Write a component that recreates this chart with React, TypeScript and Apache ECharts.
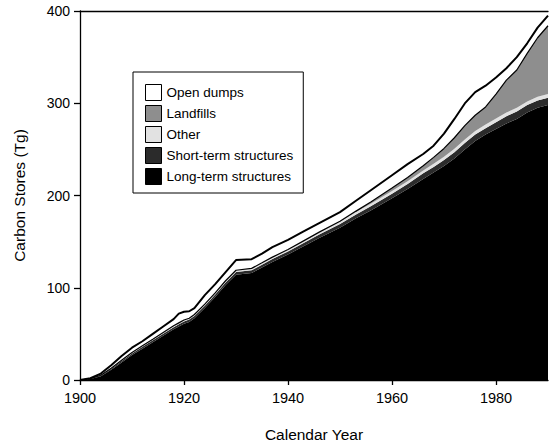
import React, { useEffect, useRef } from "react";
import * as echarts from "echarts";

const years = [1900, 1902, 1904, 1906, 1908, 1910, 1912, 1914, 1916, 1918, 1919, 1920, 1921, 1922, 1924, 1926, 1928, 1930, 1933, 1935, 1937, 1940, 1943, 1946, 1950, 1953, 1956, 1960, 1963, 1966, 1968, 1970, 1972, 1974, 1976, 1978, 1980, 1982, 1984, 1986, 1988, 1990];

const longTerm = [0, 1, 4, 11, 19, 27, 34, 41, 48, 55, 58, 61, 63, 67, 78, 90, 103, 114, 116, 122, 128, 136, 145, 154, 165, 175, 184, 197, 207, 218, 225, 232, 240, 250, 259, 266, 272, 278, 283, 290, 295, 298];
const shortTerm = [0, 0.3, 0.8, 1.2, 1.5, 1.8, 2, 2, 2.2, 2.3, 2.4, 2.5, 2.5, 2.5, 2.6, 2.7, 2.8, 3, 3, 3, 3.2, 3.4, 3.6, 3.8, 4, 4.2, 4.5, 5, 5.5, 6, 6, 6.5, 7, 7, 7, 7, 7.5, 8, 8, 8, 8, 8];
const other = [0, 0.2, 0.4, 0.6, 0.8, 1, 1.2, 1.3, 1.4, 1.5, 1.5, 1.5, 1.5, 1.5, 1.6, 1.7, 1.8, 2, 2, 2, 2, 2, 2.2, 2.3, 2.5, 2.6, 2.8, 3, 3, 3.2, 3.3, 3.5, 3.6, 3.8, 4, 4, 4, 4, 4, 4, 4, 4];
const landfills = [0, 0, 0, 0, 0, 0, 0, 0, 0, 0, 0, 0, 0, 0, 0, 0, 0, 0, 0, 0, 0, 0, 0, 0.2, 0.5, 1, 2, 3, 4, 5, 7, 9, 12, 15, 17, 19, 26.5, 35, 41, 52, 64, 74];
const openDumps = [0, 0.5, 1.8, 3.2, 4.7, 5.2, 4.8, 5.7, 6.4, 7.2, 10, 9, 7.5, 7, 9.8, 9.6, 9.4, 11, 10, 10, 10.8, 10.6, 10.2, 9.7, 10, 11.2, 12.7, 14, 14.5, 12.8, 12.7, 16, 20.4, 24, 25, 23, 18, 13, 14, 11, 11, 11];

const yTicks = { min: 0, max: 400, interval: 100 };
const xTicks = { min: 1900, max: 1990, interval: 20 };

const FONT = "'Liberation Sans', Arial, Helvetica, sans-serif";

// value first, year second (encode maps them), so that the stack sums the values
function pairs(vals: number[]) {
  return years.map((y, i) => [vals[i], y]);
}

export default function App() {
  const ref = useRef<HTMLDivElement>(null);
  useEffect(() => {
    document.body.style.margin = "0";
    const chart = echarts.init(ref.current!, null, { renderer: "svg" });
    const mk = (name: string, vals: number[], color: string, line: any) => ({
      name,
      type: "line",
      stack: "total",
      data: pairs(vals),
      encode: { x: 1, y: 0 },
      symbol: "none",
      color,
      itemStyle: { color },
      lineStyle: line,
      areaStyle: { color, opacity: 1 },
      emphasis: { disabled: true },
    });
    chart.setOption({
      animation: false,
      backgroundColor: "#ffffff",
      textStyle: { fontFamily: FONT },
      grid: { left: 80, right: 1, top: 11, bottom: 62 },
      legend: {
        orient: "vertical",
        left: 133,
        top: 72,
        padding: [12, 10, 8, 12],
        itemWidth: 16,
        itemHeight: 16,
        itemGap: 4,
        icon: "rect",
        selectedMode: false,
        borderColor: "#000",
        borderWidth: 1,
        backgroundColor: "#fff",
        itemStyle: { borderColor: "#000", borderWidth: 1 },
        textStyle: { fontSize: 13.5, color: "#000", fontFamily: FONT },
        data: ["Open dumps", "Landfills", "Other", "Short-term structures", "Long-term structures"],
      },
      xAxis: [
        {
          type: "value",
          min: xTicks.min,
          max: xTicks.max,
          interval: xTicks.interval,
          name: "Calendar Year",
          nameLocation: "middle",
          nameGap: 46,
          nameTextStyle: { fontSize: 15.5, color: "#000", fontFamily: FONT },
          axisLine: { lineStyle: { color: "#000", width: 1.3 } },
          axisTick: { length: 5, lineStyle: { color: "#000", width: 1.3 } },
          axisLabel: {
            fontSize: 14.5,
            color: "#000",
            margin: 10,
            showMaxLabel: false,
            fontFamily: FONT,
            formatter: (v: number) => String(v),
          },
          splitLine: { show: false },
        },
        {
          type: "value",
          position: "top",
          min: xTicks.min,
          max: xTicks.max,
          axisLine: { show: true, lineStyle: { color: "#000", width: 1.3 } },
          axisTick: { show: false },
          axisLabel: { show: false },
          splitLine: { show: false },
        },
      ],
      yAxis: {
        type: "value",
        min: yTicks.min,
        max: yTicks.max,
        interval: yTicks.interval,
        name: "Carbon Stores (Tg)",
        nameLocation: "middle",
        nameGap: 53,
        nameTextStyle: { fontSize: 15.5, color: "#000", fontFamily: FONT },
        axisLine: { show: true, lineStyle: { color: "#000", width: 1.3 } },
        axisTick: { show: true, length: 6, lineStyle: { color: "#000", width: 1.3 } },
        axisLabel: { fontSize: 14, color: "#000", margin: 10, fontFamily: FONT },
        splitLine: { show: false },
      },
      series: [
        mk("Long-term structures", longTerm, "#000000", { width: 0, opacity: 0 }),
        mk("Short-term structures", shortTerm, "#2b2b2b", { width: 0, opacity: 0 }),
        mk("Other", other, "#e2e2e2", { width: 0, opacity: 0 }),
        mk("Landfills", landfills, "#8e8e8e", { color: "#000", width: 1.2 }),
        mk("Open dumps", openDumps, "#ffffff", { color: "#000", width: 2 }),
      ],
    });
    return () => chart.dispose();
  }, []);
  return <div ref={ref} style={{ position: "fixed", left: 0, top: 0, width: 549, height: 447 }} />;
}
